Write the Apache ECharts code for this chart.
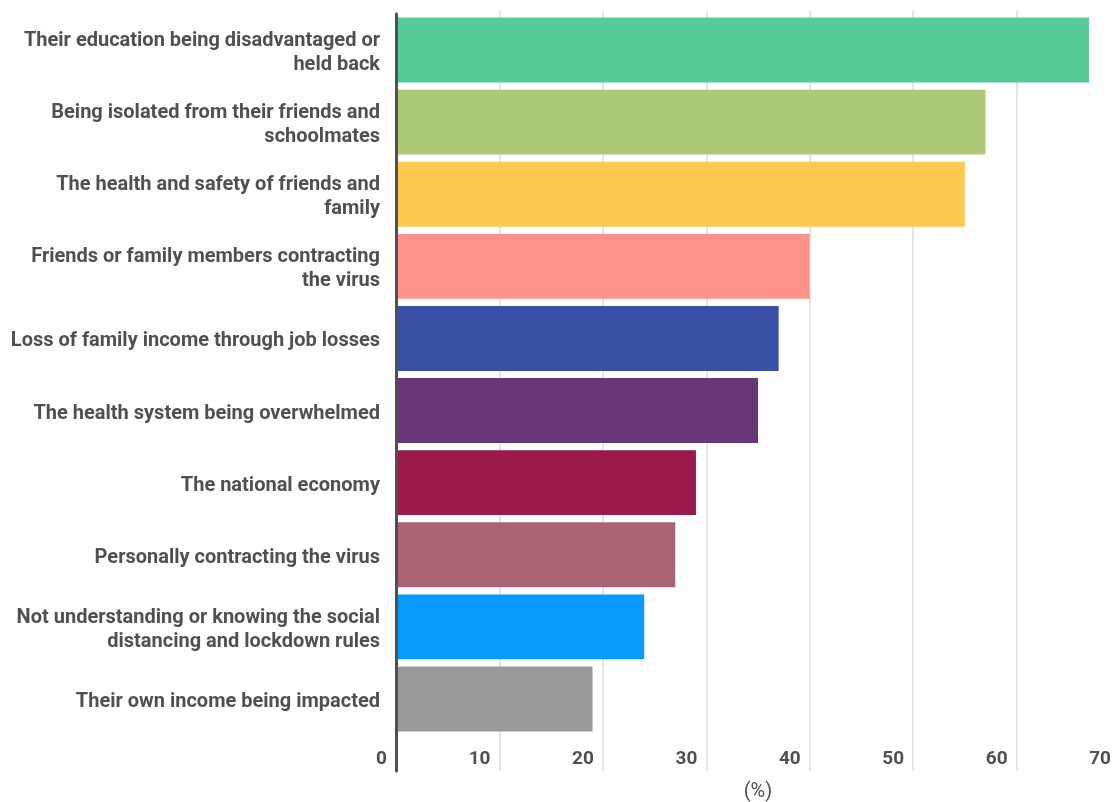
<!DOCTYPE html>
<html>
<head>
<meta charset="utf-8">
<script src="https://cdn.jsdelivr.net/npm/echarts@6/dist/echarts.min.js"></script>
<style>
  html, body { margin: 0; padding: 0; background: #fff; }
  #chart { width: 1114px; height: 802px; }
</style>
</head>
<body>
<div id="chart"></div>
<script>
// Concerns, listed from the most to the least cited
const categories = [
  'Their education being disadvantaged or\nheld back',
  'Being isolated from their friends and\nschoolmates',
  'The health and safety of friends and\nfamily',
  'Friends or family members contracting\nthe virus',
  'Loss of family income through job losses',
  'The health system being overwhelmed',
  'The national economy',
  'Personally contracting the virus',
  'Not understanding or knowing the social\ndistancing and lockdown rules',
  'Their own income being impacted'
];
// Share of respondents (%)
const values = [67, 57, 55, 40, 37, 35, 29, 27, 24, 19];
const barColors = [
  '#57CC99', '#ADCA78', '#FFC850', '#FF928A', '#3A50A5',
  '#693679', '#9A1A4B', '#A86473', '#0899FF', '#999999'
];
// Percentage axis ticks
const xTicks = [0, 10, 20, 30, 40, 50, 60, 70];
const axisTitle = '(%)';

const FONT = 'Roboto, "Liberation Sans", sans-serif';
const TEXT = '#505050';
const GRID_LINE = '#dcdcdc';
const xMin = xTicks[0];
const xMax = xTicks[xTicks.length - 1];
const xStep = xTicks[1] - xTicks[0];

const PLOT_TOP = 14, PLOT_H = 721, LABEL_DROP = 3;

const chart = echarts.init(document.getElementById('chart'));
chart.setOption({
  animation: false,
  backgroundColor: '#ffffff',
  textStyle: { fontFamily: FONT },
  grid: [
    // bars; the 70 gridline sits just past the right edge of the canvas
    { left: 396, right: -6, top: PLOT_TOP, height: PLOT_H, outerBoundsMode: 'none', containLabel: false },
    // strip under the bars holding the tick labels
    { left: 396, right: -6, top: PLOT_TOP + PLOT_H, height: 36, outerBoundsMode: 'none', containLabel: false },
    // category labels, set a touch lower than the bar centres
    { left: 396, right: -6, top: PLOT_TOP + LABEL_DROP, height: PLOT_H, outerBoundsMode: 'none', containLabel: false }
  ],
  xAxis: [
    {
      gridIndex: 0, type: 'value', min: xMin, max: xMax, interval: xStep,
      position: 'top',
      axisLine: { show: false },
      axisLabel: { show: false },
      axisTick: { show: true, length: 3, lineStyle: { color: GRID_LINE, width: 1.5 } },
      splitLine: { show: true, lineStyle: { color: GRID_LINE, width: 1.5 } }
    },
    {
      gridIndex: 1, type: 'value', min: xMin, max: xMax, interval: xStep,
      position: 'bottom',
      axisLine: { show: false },
      axisTick: { show: false },
      splitLine: { show: true, lineStyle: { color: GRID_LINE, width: 1.5 } },
      axisLabel: {
        inside: true, margin: 2, align: 'right', padding: [0, 9, 0, 0],
        fontFamily: FONT, fontSize: 19, fontWeight: 'bold', color: TEXT
      },
      name: axisTitle, nameLocation: 'middle', nameGap: 11,
      nameTextStyle: { fontFamily: FONT, fontSize: 20, color: TEXT }
    },
    {
      gridIndex: 2, type: 'value', min: xMin, max: xMax, show: false
    }
  ],
  yAxis: [
    {
      gridIndex: 0, type: 'category', data: categories, inverse: true, z: 5,
      axisLine: { show: true, lineStyle: { color: TEXT, width: 3 } },
      axisTick: { show: false },
      splitLine: { show: false },
      axisLabel: { show: false }
    },
    {
      gridIndex: 1, type: 'value', min: 0, max: 1, z: 5,
      axisLine: { show: true, lineStyle: { color: TEXT, width: 3 } },
      axisTick: { show: false },
      axisLabel: { show: false },
      splitLine: { show: false }
    },
    {
      gridIndex: 2, type: 'category', data: categories, inverse: true,
      axisLine: { show: false },
      axisTick: { show: false },
      splitLine: { show: false },
      axisLabel: {
        margin: 16, align: 'right', lineHeight: 24,
        fontFamily: FONT, fontSize: 20, fontWeight: 'bold', color: TEXT
      }
    }
  ],
  series: [
    {
      type: 'bar',
      xAxisIndex: 0, yAxisIndex: 0,
      barCategoryGap: '10%',
      data: values.map((v, i) => ({ value: v, itemStyle: { color: barColors[i] } }))
    }
  ]
});
</script>
</body>
</html>
